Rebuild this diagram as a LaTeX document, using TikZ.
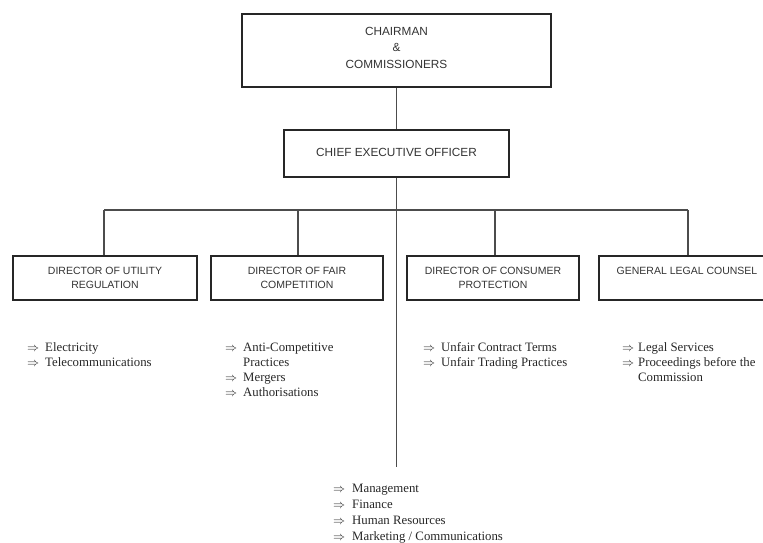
\documentclass[tikz,border=0pt]{standalone}
\usepackage{fontspec}
\setmainfont{Liberation Serif}
\newfontfamily\boxfont{Liberation Sans}
\usetikzlibrary{positioning}

\newcommand{\itm}{$\Rightarrow$&}
\newcommand{\dutytab}[2][6pt]{\begin{tabular}[t]{@{}l@{\hspace{#1}}l@{}}#2\end{tabular}}

\begin{document}
\begin{tikzpicture}[x=1pt,y=-1pt,node distance=103pt,on grid]
  \tikzset{
    box/.style={draw=black!85, line width=2pt, minimum height=44pt, inner sep=0pt,
      align=center, text=black!80, font=\boxfont\fontsize{10.5}{14}\selectfont},
    link/.style={draw=black!70, line width=1.1pt},
    duty/.style={anchor=base west, inner sep=0pt, text=black!85,
      font=\fontsize{12.8}{15.3}\selectfont}
  }
  \useasboundingbox (0,0) rectangle (763,543);
  \clip (0,0) rectangle (763,543);

  \node[box, minimum width=309pt, minimum height=73pt, text depth=6pt,
        font=\boxfont\fontsize{11.8}{16.5}\selectfont] (chair) at (396.5,50.5)
        {CHAIRMAN\\\&\\COMMISSIONERS};
  \node[box, minimum width=225pt, minimum height=47pt, text depth=3pt,
        font=\boxfont\fontsize{11.8}{14}\selectfont] (ceo) [below=of chair]
        {CHIEF EXECUTIVE OFFICER};

  \node[box, minimum width=184pt] (util)  at (105,278) {DIRECTOR OF UTILITY\\REGULATION};
  \node[box, minimum width=172pt] (fair)  at (297,278) {DIRECTOR OF FAIR\\COMPETITION};
  \node[box, minimum width=172pt] (cons)  at (493,278) {DIRECTOR OF CONSUMER\\PROTECTION};
  \node[box, minimum width=176pt] (legal) at (687,278) {GENERAL LEGAL COUNSEL\\\phantom{G}};

  % bus and drops
  \coordinate (u) at (104,210);
  \coordinate (f) at (298,210);
  \coordinate (c) at (495,210);
  \coordinate (g) at (688,210);
  \coordinate (foot) at (396.5,467);

  \path[link]
    (chair) -- (ceo)
    (ceo) -- (foot)
    (u) -- (g)
    (u) -- (u |- util.north)
    (f) -- (f |- fair.north)
    (c) -- (c |- cons.north)
    (g) -- (g |- legal.north);

  \node[duty] (elec) at (27,351)
    {\dutytab{\itm Electricity\\ \itm Telecommunications}};
  \node[duty] (anti) at (225,351)
    {\dutytab{\itm Anti-Competitive\\ & Practices\\ \itm Mergers\\ \itm Authorisations}};
  \node[duty] (unfair) at (423,351)
    {\dutytab{\itm Unfair Contract Terms\\ \itm Unfair Trading Practices}};
  \node[duty] (lgl) at (622,351)
    {\dutytab[4pt]{\itm Legal Services\\ \itm Proceedings before the\\ & Commission}};
  \node[duty, font=\fontsize{12.8}{16}\selectfont] (mgmt) at (333,492)
    {\dutytab[7pt]{\itm Management\\ \itm Finance\\ \itm Human Resources\\ \itm Marketing / Communications}};
\end{tikzpicture}
\end{document}
